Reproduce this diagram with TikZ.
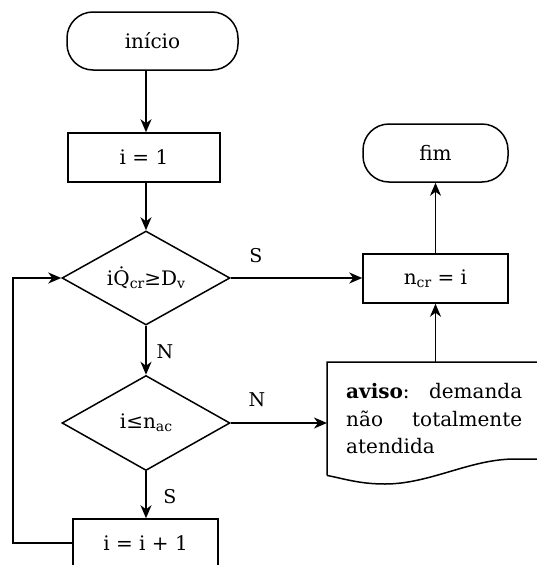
\documentclass[tikz,border=0pt]{standalone}
\usepackage{fontspec}
\setmainfont{DejaVu Serif}
\usetikzlibrary{shapes.geometric,arrows.meta}
\newcommand\lowsub[1]{\raisebox{-0.3ex}{\fontsize{14}{14}\selectfont #1}}
\tikzset{
  every node/.style={font=\fontsize{20}{27.5}\selectfont},
  flow/.style={line width=1.5pt},
  arr/.style={flow,-{Stealth[length=13pt,width=11pt,inset=4pt]}},
  terminal/.style={draw,line width=1.5pt,rounded corners=26pt,inner sep=0pt},
  procbox/.style={draw,line width=1.5pt,inner sep=0pt},
  decision/.style={draw,diamond,line width=1.5pt,inner sep=0pt,shape aspect=1.78},
  lbl/.style={font=\fontsize{19}{25}\selectfont,inner sep=0pt}
}
\begin{document}
\begin{tikzpicture}[x=1pt,y=-1pt]
\useasboundingbox (0,0) rectangle (536,565);
% nodes
\node[terminal,minimum width=171pt,minimum height=58pt] (start) at (152.5,41) {início};
\node[procbox,minimum width=152pt,minimum height=49pt] (init) at (144,157.5) {i = 1};
\node[decision,minimum width=168pt,minimum height=94pt] (d1) at (146,278)
  {i\.{Q}\lowsub{cr}≥D\lowsub{v}};
\node[decision,minimum width=168pt,minimum height=95pt] (d2) at (146,423)
  {i≤n\lowsub{ac}};
\node[procbox,minimum width=145pt,minimum height=48pt] (inc) at (145.5,543) {i = i + 1};
\node[procbox,minimum width=145pt,minimum height=49pt] (ncr) at (435.5,278.5) {n\lowsub{cr} = i};
\node[terminal,minimum width=145pt,minimum height=58pt] (fim) at (435.5,153) {fim};
% document shape with its text
\node[anchor=north west,text width=176pt,align=left,inner xsep=19pt,inner ysep=0pt,
      minimum height=113pt] (aviso) at (327,362)
  {\textbf{aviso}:\hfill demanda\\ não\hfill totalmente\\ atendida};
\draw[flow] (aviso.south west) -- (aviso.north west) -- (aviso.north east) -- ++(0,97)
  -- (515,459) .. controls (470,459) and (430,484) .. (385,484)
  .. controls (360,484) and (345,479) .. (aviso.south west);
% labels
\node[lbl] (s1) at (256,256) {S};
\node[lbl] (n1) at (165,352) {N};
\node[lbl] (n2) at (257,400) {N};
\node[lbl] (s2) at (170,497) {S};
% connectors
\coordinate (loopx) at (13,543);
\draw[arr] (start.south -| d1.north) -- (init.north -| d1.north);
\draw[arr] (init.south -| d1.north) -- (d1.north);
\draw[arr] (d1.east) -- (d1.east -| ncr.west);
\draw[arr] (ncr.north) -- (fim.south);
\draw[arr] (d1.south) -- (d2.north);
\draw[arr] (d2.east) -- (d2.east -| aviso.west);
\draw[arr] (aviso.north -| ncr.south) -- (ncr.south);
\draw[arr] (d2.south) -- (d2.south |- inc.north);
\draw[arr] (inc.west) -- (inc.west -| loopx) |- (d1.west);
\end{tikzpicture}
\end{document}
